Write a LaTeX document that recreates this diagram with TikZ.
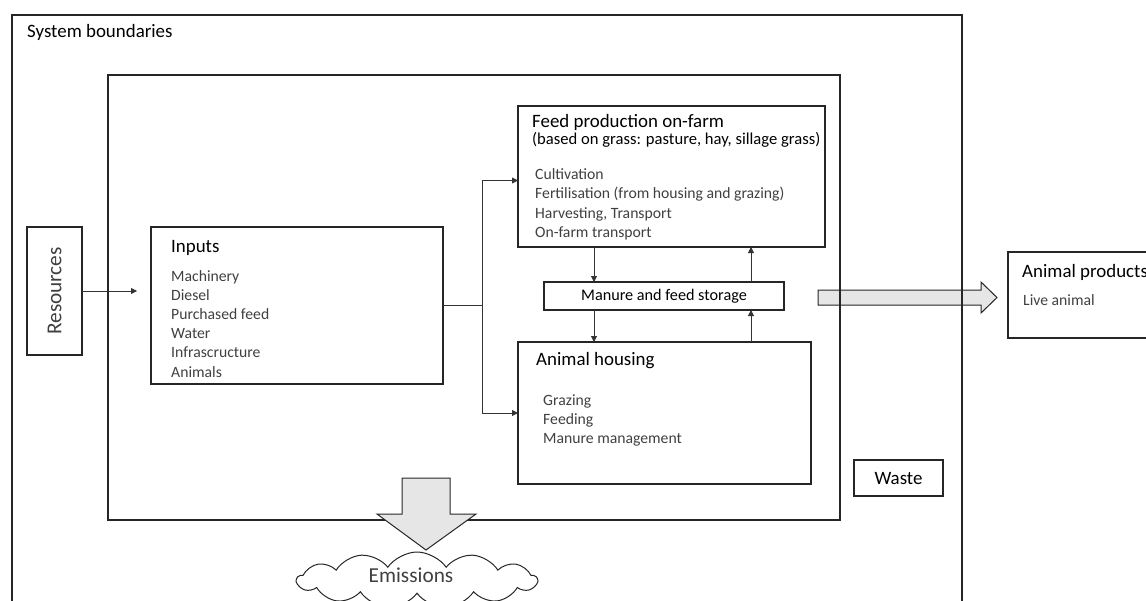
\documentclass[tikz,border=0pt]{standalone}
\usepackage{fontspec}
\setmainfont{Carlito}
\usetikzlibrary{arrows.meta,shapes.symbols}
\definecolor{itemgray}{HTML}{404040}
\definecolor{arrowfill}{HTML}{E6E6E6}
\begin{document}
\begin{tikzpicture}[x=1pt,y=-1pt,
  box/.style={draw=black!85,line width=1.1pt,inner sep=0pt,outer sep=0pt,anchor=north west},
  ttl/.style={font=\fontsize{18.9}{22}\selectfont,anchor=base west,inner sep=0pt},
  sub/.style={font=\fontsize{16.6}{19}\selectfont,anchor=base west,inner sep=0pt},
  itm/.style={font=\fontsize{15.7}{19}\selectfont,text=itemgray,anchor=base west,inner sep=0pt},
  conn/.style={draw=black!80,line width=0.8pt},
  tip/.style={-{Triangle[length=6pt,width=6pt]}},
  blockarrow/.style={draw=black!85,line width=1pt,fill=arrowfill,line join=miter}]
\clip (0,0) rectangle (1146,600);
\fill[white] (0,0) rectangle (1146,600);

% product flow leaving the system (lies under the boundary lines)
\draw[blockarrow] (818,290) -- (981,290) -- (981,282) -- (997,297.5) -- (981,313)
  -- (981,305) -- (818,305) -- cycle;

% boundaries
\node[box,minimum width=950pt,minimum height=640pt] (outer) at (12,15) {};
\node[box,minimum width=732pt,minimum height=445pt] (inner) at (108,75) {};
\node[ttl,anchor=base west] (sysb) at (27,37.3) {System boundaries};

% process boxes
\node[box,minimum width=55pt,minimum height=128pt] (res) at (27,227) {};
\node[font=\fontsize{21.3}{24}\selectfont,text=itemgray,rotate=90,inner sep=0pt] (restxt) at (res.center) {Resources};

\node[box,minimum width=292pt,minimum height=157pt] (inputs) at (151,227) {};
\node[ttl] (inputs-t) at (171,252) {Inputs};
\foreach \t [count=\i] in {Machinery,Diesel,Purchased feed,Water,Infrascructure,Animals}
  \node[itm] (inputs-\i) at (171,{281+19.2*(\i-1)}) {\t};

\node[box,minimum width=307pt,minimum height=141pt] (feed) at (518,106) {};
\node[ttl] (feed-t) at (532,127) {Feed production on-farm};
\node[sub] (feed-s) at (532,144) {(based on grass: pasture, hay, sillage grass)};
\foreach \t [count=\i] in {Cultivation,Fertilisation (from housing and grazing),{Harvesting, Transport},On-farm transport}
  \node[itm] (feed-\i) at (535,{179.5+19.3*(\i-1)}) {\t};

\node[box,minimum width=240pt,minimum height=28pt] (store) at (544,282) {};
\node[font=\fontsize{16.2}{19}\selectfont,inner sep=0pt] (store-t) at (store.center) {Manure and feed storage};

\node[box,minimum width=293pt,minimum height=142pt] (housing) at (518,342) {};
\node[ttl] (housing-t) at (536,365) {Animal housing};
\foreach \t [count=\i] in {Grazing,Feeding,Manure management}
  \node[itm] (housing-\i) at (543,{405+19.3*(\i-1)}) {\t};

\node[box,minimum width=89pt,minimum height=36pt] (waste) at (854,460) {};
\node[font=\fontsize{18.9}{22}\selectfont,inner sep=0pt] (waste-t) at (waste.center) {Waste};

\node[box,minimum width=160pt,minimum height=86pt] (prod) at (1008,252) {};
\node[ttl] (prod-t) at (1022,277) {Animal products};
\node[itm] (prod-1) at (1023,305) {Live animal};

% connectors
\draw[conn,tip,shorten >=14pt] (res.east) -- (inputs.west |- res.east);
\coordinate (split) at ([xshift=39pt]inputs.east);
\draw[conn] (inputs.east) -- (split);
\draw[conn,tip] (split) |- ([yshift=-4pt]feed.west);
\draw[conn,tip] (split) |- (housing.west);
\coordinate (cl) at (594,0);
\coordinate (cr) at (751,0);
\draw[conn,tip] (feed.south -| cl) -- (store.north -| cl);
\draw[conn,tip] (store.south -| cl) -- (housing.north -| cl);
\draw[conn,tip] (housing.north -| cr) -- (store.south -| cr);
\draw[conn,tip] (store.north -| cr) -- (feed.south -| cr);

% emissions leaving the farm
\draw[blockarrow] (402,478) -- (450,478) -- (450,514) -- (476,514) -- (426,550)
  -- (377,514) -- (402,514) -- cycle;
\node[cloud,cloud puffs=13,cloud puff arc=110,cloud ignores aspect,draw=black!85,line width=1pt,
  fill=white,minimum width=240pt,minimum height=56pt,inner sep=0pt,
  font=\fontsize{21.3}{24}\selectfont,text=itemgray] (emis) at (417,580) {};
\node[font=\fontsize{21.3}{24}\selectfont,text=itemgray,inner sep=0pt] (emis-t) at (411,575) {Emissions};
\end{tikzpicture}
\end{document}
